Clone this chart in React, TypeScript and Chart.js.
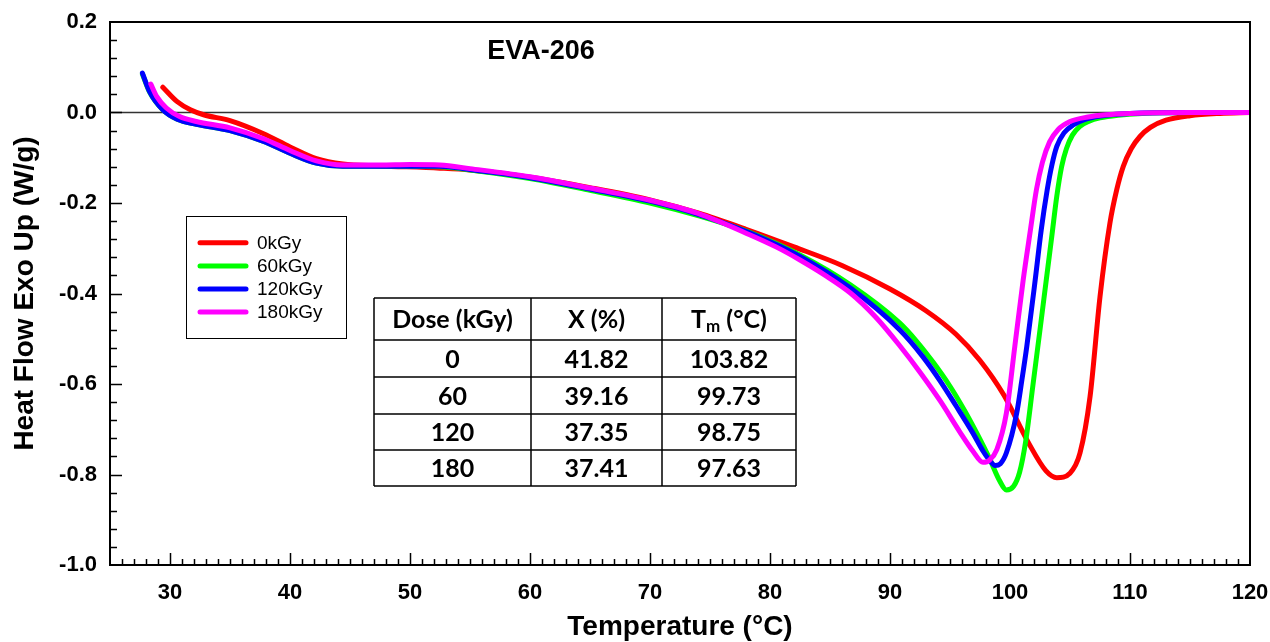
import React, { useEffect, useRef } from "react";
import { Chart, registerables } from "chart.js";

Chart.register(...registerables);

const FONT = '"Liberation Sans", Arial, Helvetica, sans-serif';
const TABLE_FONT = 'Lato, "Open Sans", sans-serif';

// ---- series data (Temperature °C, Heat Flow W/g) ----
const series0T = [29.4, 30.6, 31.7, 32.8, 35, 37.8, 40, 42.2, 44.4, 47.5, 52.5, 55, 60, 65, 70, 74, 78, 82, 86, 90, 93, 95.5, 97.5, 99.5, 101.5, 103, 103.9, 105, 105.83, 106.67, 107.5, 108.33, 108.9, 109.44, 110.1, 110.83, 111.7, 113, 115, 117.5, 120];
const series0H = [0.056, 0.024, 0.006, -0.005, -0.018, -0.047, -0.076, -0.102, -0.114, -0.118, -0.123, -0.127, -0.143, -0.166, -0.193, -0.222, -0.258, -0.297, -0.338, -0.39, -0.438, -0.49, -0.548, -0.625, -0.728, -0.792, -0.807, -0.797, -0.753, -0.628, -0.407, -0.244, -0.17, -0.119, -0.08, -0.053, -0.033, -0.017, -0.007, -0.002, 0.0];

const series60T = [27.7, 28.3, 29.4, 30.6, 32.2, 35, 37.8, 40, 42.2, 44.4, 47.5, 52.5, 55, 60, 65, 70, 74, 78.3, 82.5, 86.7, 90.8, 92.2, 93.6, 95, 96.2, 97.3, 98.3, 99.1, 99.7, 100.3, 100.8, 101.3, 101.9, 102.5, 103.0, 103.5, 103.9, 104.3, 104.7, 105.2, 105.8, 106.6, 107.5, 109, 111, 115, 120];
const series60H = [0.085, 0.045, 0.006, -0.015, -0.026, -0.040, -0.064, -0.090, -0.112, -0.119, -0.119, -0.120, -0.127, -0.146, -0.172, -0.2, -0.228, -0.265, -0.315, -0.381, -0.465, -0.505, -0.552, -0.605, -0.658, -0.712, -0.765, -0.812, -0.834, -0.826, -0.795, -0.728, -0.605, -0.48, -0.375, -0.27, -0.185, -0.12, -0.08, -0.05, -0.031, -0.019, -0.012, -0.006, -0.002, 0.0, 0.0];

const series120T = [27.7, 28.3, 29.4, 30.6, 32.2, 35, 37.8, 40, 42.2, 44.4, 47.5, 52.5, 55, 60, 65, 70, 74, 78.3, 82.5, 86.7, 90.8, 92.75, 94.2, 95.5, 96.9, 97.75, 98.4, 98.75, 99.2, 99.7, 100.56, 100.97, 101.4, 102.1, 102.6, 103.1, 103.5, 103.9, 104.5, 105.3, 106.2, 107.5, 110, 115, 120];
const series120H = [0.087, 0.046, 0.006, -0.015, -0.026, -0.040, -0.064, -0.090, -0.112, -0.119, -0.119, -0.119, -0.126, -0.144, -0.169, -0.196, -0.225, -0.266, -0.318, -0.388, -0.48, -0.54, -0.594, -0.648, -0.708, -0.748, -0.772, -0.78, -0.776, -0.752, -0.664, -0.595, -0.517, -0.37, -0.26, -0.171, -0.115, -0.075, -0.045, -0.027, -0.016, -0.008, -0.002, 0.0, 0.0];

const series180T = [28.4, 28.9, 29.7, 30.8, 32.2, 35, 37.8, 40, 42.2, 44.4, 47.5, 50, 52.5, 55, 60, 65, 70, 74, 78.3, 80.5, 82.5, 84.6, 86.7, 88.8, 90.8, 92.5, 94.2, 95.8, 96.9, 97.75, 98.3, 98.9, 99.7, 100.4, 101.1, 101.7, 102.2, 102.7, 103.3, 104, 105, 106.5, 108, 110, 115, 120];
const series180H = [0.063, 0.035, 0.010, -0.009, -0.020, -0.034, -0.058, -0.084, -0.107, -0.116, -0.116, -0.115, -0.116, -0.124, -0.142, -0.167, -0.194, -0.223, -0.27, -0.297, -0.326, -0.36, -0.399, -0.452, -0.515, -0.574, -0.638, -0.705, -0.748, -0.773, -0.768, -0.745, -0.664, -0.517, -0.37, -0.26, -0.171, -0.11, -0.065, -0.038, -0.02, -0.01, -0.005, -0.002, 0.0, 0.0];

const seriesLabels = ["0kGy", "60kGy", "120kGy", "180kGy"];
const seriesColors = ["#ff0000", "#00ff00", "#0000ff", "#ff00ff"];

// ---- table data ----
const tableHeaders = ["Dose (kGy)", "X (%)", "Tm (°C)"];
const doseValues = ["0", "60", "120", "180"];
const crystallinity = ["41.82", "39.16", "37.35", "37.41"];
const meltTemps = ["103.82", "99.73", "98.75", "97.63"];

const chartTitle = "EVA-206";
const xTitle = "Temperature (°C)";
const yTitle = "Heat Flow Exo Up (W/g)";

function pts(t: number[], h: number[]) {
  return t.map((x, i) => ({ x, y: h[i] }));
}

const decorPlugin = {
  id: "decor",
  beforeDatasetsDraw(chart: any) {
    const { ctx, chartArea, scales } = chart;
    const y0 = scales.y.getPixelForValue(0);
    ctx.save();
    ctx.strokeStyle = "#333";
    ctx.lineWidth = 1.5;
    ctx.beginPath();
    ctx.moveTo(chartArea.left, y0);
    ctx.lineTo(chartArea.right, y0);
    ctx.stroke();
    ctx.restore();
  },
  afterDatasetsDraw(chart: any) {
    const { ctx, chartArea, scales } = chart;
    const { left, right, top, bottom } = chartArea;
    ctx.save();
    ctx.strokeStyle = "#000";
    ctx.lineWidth = 2;
    ctx.strokeRect(left, top, right - left, bottom - top);
    ctx.lineWidth = 1.5;
    ctx.beginPath();
    for (let v = 26; v < 120; v++) {
      const px = Math.round(scales.x.getPixelForValue(v)) + 0.5;
      const len = v % 10 === 0 ? 12 : 6;
      ctx.moveTo(px, bottom);
      ctx.lineTo(px, bottom - len);
    }
    for (let i = 1; i < 30; i++) {
      const v = -1 + i * 0.04;
      const py = Math.round(scales.y.getPixelForValue(v)) + 0.5;
      const len = i % 5 === 0 ? 12 : 7;
      ctx.moveTo(left, py);
      ctx.lineTo(left + len, py);
    }
    ctx.stroke();
    ctx.restore();
  },
  afterDraw(chart: any) {
    const { ctx, chartArea } = chart;
    ctx.save();
    // chart title
    ctx.fillStyle = "#000";
    ctx.font = `bold 27px ${FONT}`;
    ctx.textAlign = "center";
    ctx.textBaseline = "middle";
    ctx.fillText(chartTitle, 541, 52);

    // y title
    ctx.save();
    ctx.translate(25, (chartArea.top + chartArea.bottom) / 2);
    ctx.rotate(-Math.PI / 2);
    ctx.font = `bold 28px ${FONT}`;
    ctx.fillText(yTitle, 0, 0);
    ctx.restore();

    // legend
    ctx.lineWidth = 1;
    ctx.strokeStyle = "#000";
    ctx.strokeRect(186.5, 216.5, 160, 122);
    const rows = [242.7, 266, 289, 312];
    chart.data.datasets.forEach((ds: any, i: number) => {
      ctx.strokeStyle = ds.borderColor;
      ctx.lineWidth = 5;
      ctx.lineCap = "round";
      ctx.beginPath();
      ctx.moveTo(200, rows[i]);
      ctx.lineTo(246, rows[i]);
      ctx.stroke();
      ctx.fillStyle = "#000";
      ctx.font = `19px ${FONT}`;
      ctx.textAlign = "left";
      ctx.textBaseline = "middle";
      ctx.fillText(ds.label, 257, rows[i] + 1);
    });

    // table
    const colX = [374, 531, 662, 796];
    const rowY = [298, 340, 377, 414, 450, 486];
    ctx.strokeStyle = "#000";
    ctx.lineWidth = 1.5;
    ctx.lineCap = "butt";
    ctx.beginPath();
    colX.forEach((x) => {
      ctx.moveTo(x, rowY[0]);
      ctx.lineTo(x, rowY[rowY.length - 1]);
    });
    rowY.forEach((y) => {
      ctx.moveTo(colX[0], y);
      ctx.lineTo(colX[colX.length - 1], y);
    });
    ctx.stroke();
    ctx.fillStyle = "#000";
    ctx.textBaseline = "middle";
    ctx.textAlign = "center";
    const cx = [0, 1, 2].map((i) => (colX[i] + colX[i + 1]) / 2);
    const big = `bold 25px ${TABLE_FONT}`;
    const small = `bold 17px ${TABLE_FONT}`;
    ctx.font = big;
    const hy = (rowY[0] + rowY[1]) / 2 + 1;
    ctx.fillText(tableHeaders[0], cx[0], hy);
    ctx.fillText(tableHeaders[1], cx[1], hy);
    // Tm header with subscript
    ctx.textAlign = "left";
    const tW = ctx.measureText("T").width;
    const restW = ctx.measureText(" (°C)").width;
    ctx.font = small;
    const mW = ctx.measureText("m").width;
    const total = tW + mW + restW;
    const sx = cx[2] - total / 2;
    ctx.font = big;
    ctx.fillText("T", sx, hy);
    ctx.font = small;
    ctx.fillText("m", sx + tW, hy + 7);
    ctx.font = big;
    ctx.fillText(" (°C)", sx + tW + mW, hy);
    ctx.textAlign = "center";
    for (let r = 0; r < doseValues.length; r++) {
      const yy = (rowY[r + 1] + rowY[r + 2]) / 2 + 1;
      ctx.fillText(doseValues[r], cx[0], yy);
      ctx.fillText(crystallinity[r], cx[1], yy);
      ctx.fillText(meltTemps[r], cx[2], yy);
    }
    ctx.restore();
  },
};

export default function App() {
  const canvasRef = useRef<HTMLCanvasElement | null>(null);

  useEffect(() => {
    if (!canvasRef.current) return;
    const sets = [
      [series0T, series0H],
      [series60T, series60H],
      [series120T, series120H],
      [series180T, series180H],
    ];
    const chart = new Chart(canvasRef.current, {
      type: "line",
      data: {
        datasets: sets.map(([t, h], i) => ({
          label: seriesLabels[i],
          data: pts(t, h),
          borderColor: seriesColors[i],
          backgroundColor: seriesColors[i],
          borderWidth: 5,
          pointRadius: 0,
          fill: false,
          cubicInterpolationMode: "monotone" as const,
          borderCapStyle: "round" as const,
          borderJoinStyle: "round" as const,
          order: 3 - i,
        })),
      },
      options: {
        animation: false,
        responsive: false,
        maintainAspectRatio: false,
        layout: { padding: { top: 22, right: 20, bottom: 0, left: 0 } },
        plugins: {
          legend: { display: false },
          tooltip: { enabled: false },
          title: { display: false },
        },
        scales: {
          x: {
            type: "linear",
            min: 25,
            max: 120,
            afterFit: (s: any) => {
              s.height = 77;
              s.paddingLeft = 0;
              s.paddingRight = 0;
            },
            ticks: {
              stepSize: 10,
              includeBounds: false,
              padding: 15,
              color: "#000",
              font: { family: FONT, size: 22, weight: "bold" },
              maxRotation: 0,
            },
            grid: { display: false, drawTicks: false },
            border: { display: false },
            title: {
              display: true,
              text: xTitle,
              color: "#000",
              font: { family: FONT, size: 28, weight: "bold", lineHeight: 1 },
              padding: { top: 0, bottom: 1 },
            },
          },
          y: {
            type: "linear",
            min: -1,
            max: 0.2,
            afterFit: (s: any) => {
              s.width = 110;
              s.paddingTop = 0;
              s.paddingBottom = 0;
            },
            ticks: {
              stepSize: 0.2,
              padding: 13,
              color: "#000",
              font: { family: FONT, size: 22, weight: "bold" },
              callback: (v: any) => {
                const n = Math.abs(v) < 1e-9 ? 0 : v;
                return Number(n).toFixed(1);
              },
            },
            grid: { display: false, drawTicks: false },
            border: { display: false },
          },
        },
      },
      plugins: [decorPlugin],
    });
    return () => chart.destroy();
  }, []);

  return (
    <div style={{ position: "fixed", left: 0, top: 0, width: 1270, height: 642, background: "#fff" }}>
      <canvas ref={canvasRef} width={1270} height={642} style={{ display: "block" }} />
    </div>
  );
}
